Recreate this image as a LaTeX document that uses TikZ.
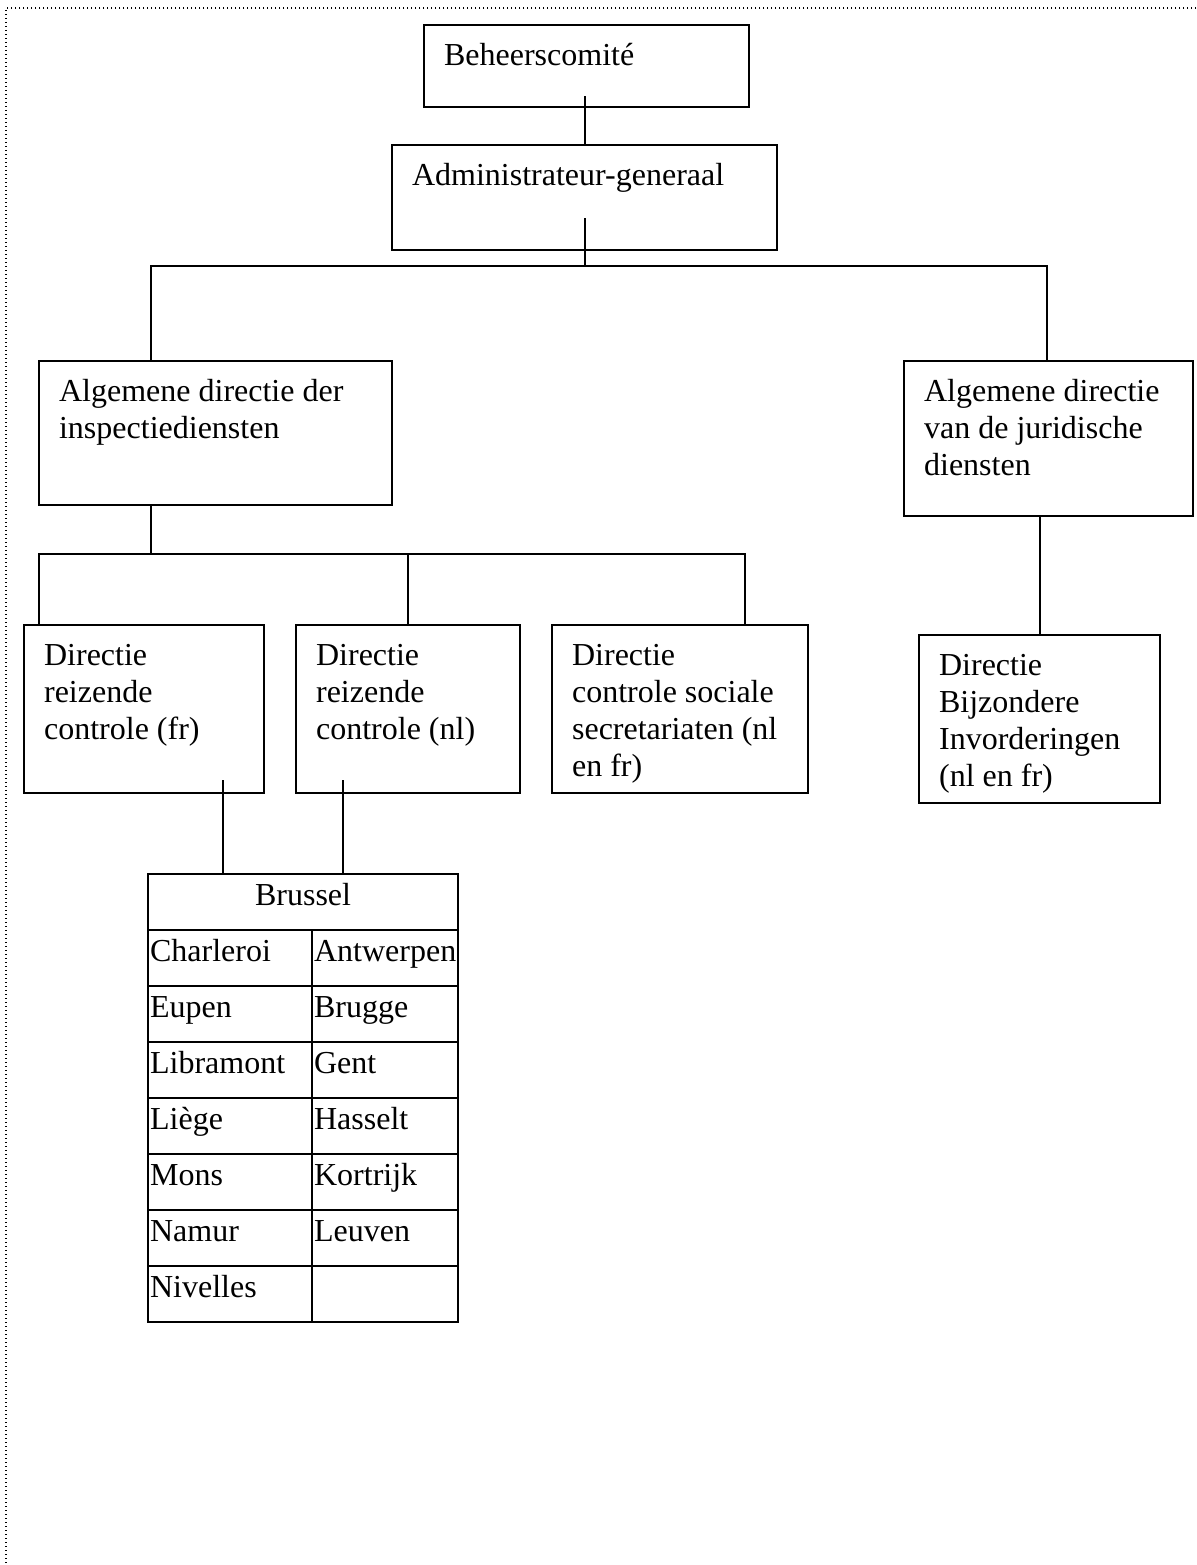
\documentclass[tikz,border=0pt]{standalone}
\usepackage{fontspec}
\setmainfont{Liberation Serif}
\tikzset{%
  unit/.style = {draw,line width=1.1pt,anchor=north west,
        inner xsep=10pt,inner ysep=0pt},
  cell/.style = {draw,line width=1.1pt,anchor=north west,
        inner xsep=1pt,inner ysep=0pt,minimum height=28pt,
        text height=11pt,text depth=8pt,align=left},
  link/.style = {line width=1.1pt},
  frame/.style = {line width=0.6pt,dash pattern=on 0.6pt off 1.4pt}
}
\newcommand{\unittext}[3]{\parbox[t][#2][t]{#1}{\raggedright\rule{0pt}{20pt}#3}}

\begin{document}
\begin{tikzpicture}[x=0.5pt,y=-0.5pt,
  font=\fontsize{16}{18.5}\selectfont]
  \useasboundingbox (0,0) rectangle (1196,1565);
  \draw[frame] (1196,8) -- (6,8) -- (6,1565);

  \node[unit] (beh) at (423,24) {\unittext{142.5pt}{41pt}{Beheerscomité}};
  \node[unit] (adm) at (391,144) {\unittext{172.5pt}{52.5pt}{Administrateur-generaal}};
  \node[unit] (alg1) at (38,360) {\unittext{156.5pt}{72pt}{Algemene directie der\\inspectiediensten}};
  \node[unit] (alg2) at (903,360) {\unittext{124.5pt}{77.5pt}{Algemene directie\\van de juridische\\diensten}};
  \node[unit] (d1) at (23,624) {\unittext{100pt}{84pt}{Directie\\reizende\\controle (fr)}};
  \node[unit] (d2) at (295,624) {\unittext{92pt}{84pt}{Directie\\reizende\\controle (nl)}};
  \node[unit] (d3) at (551,624) {\unittext{108pt}{84pt}{Directie\\controle sociale\\secretariaten (nl\\en fr)}};
  \node[unit] (d4) at (918,634) {\unittext{100.5pt}{84pt}{Directie\\Bijzondere\\Invorderingen\\(nl en fr)}};

  % table of the offices
  \node[cell,text width=153pt,align=center] (bru) at (147,873) {Brussel};
  \foreach \a/\b [count=\i] in {Charleroi/Antwerpen,Eupen/Brugge,Libramont/Gent,
      Liège/Hasselt,Mons/Kortrijk,Namur/Leuven,Nivelles/{}} {
    \node[cell,text width=80pt] (l\i) at (147,873+56*\i) {\a};
    \node[cell,text width=71pt] (r\i) at (311,873+56*\i) {\b};
  }

  \draw[link] (adm.north) -- ++(0,-48);
  \coordinate (busA) at ([yshift=-7.5pt]adm.south);
  \draw[link] (busA) -- ++(0,-48);
  \coordinate (dropA) at ([xshift=56.5pt]alg1.north west);
  \coordinate (dropB) at ([xshift=72pt]alg2.north west);
  \draw[link] (dropA) |- (busA) -| (dropB);

  \coordinate (busB) at ([xshift=56.5pt,yshift=-24pt]alg1.south west);
  \draw[link] (alg1.south -| busB) -- (busB);
  \coordinate (dropC) at ([xshift=8pt]d1.north west);
  \coordinate (dropD) at ([xshift=-32pt]d3.north east);
  \draw[link] (dropC) |- (busB) -| (dropD);
  \draw[link] (d2.north) -- (d2.north |- busB);
  \draw[link] (alg2.south -| d4.north) -- (d4.north);

  \coordinate (tabA) at ([xshift=38pt]bru.north west);
  \coordinate (tabB) at ([xshift=98pt]bru.north west);
  \draw[link] (tabA) -- (d1.south -| tabA) -- ++(0,-14);
  \draw[link] (tabB) -- (d2.south -| tabB) -- ++(0,-14);
\end{tikzpicture}
\end{document}
